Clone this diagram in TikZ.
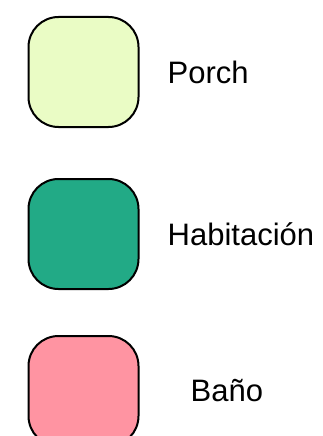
\documentclass[tikz,border=0pt]{standalone}
\usepackage{fontspec}
\setmainfont{Liberation Sans}
\usetikzlibrary{positioning}
\definecolor{porchcol}{HTML}{EAFCC5}
\definecolor{habcol}{HTML}{22AA86}
\definecolor{banocol}{HTML}{FF94A2}

\begin{document}
\begin{tikzpicture}[x=1pt,y=-1pt,
        room/.style={draw=black,line width=2pt,rounded corners=30pt,
            minimum width=110pt,minimum height=110pt,inner sep=0pt},
        lbl/.style={font=\fontsize{31}{37}\selectfont,inner sep=0pt,anchor=west}]
        \useasboundingbox (0,0) rectangle (322,436);

        \node[room,fill=porchcol] (porch) at (83.5,72) {};
        \node[room,fill=habcol,below=50pt of porch] (hab) {};
        \node[room,fill=banocol,below=45pt of hab] (bano) {};

        \node[lbl,right=28pt of porch] (porchtxt) {Porch};
        \node[lbl,right=28pt of hab] (habtxt) {Habitación};
        \node[lbl,right=51pt of bano] (banotxt) {Baño};
    \end{tikzpicture}
\end{document}
